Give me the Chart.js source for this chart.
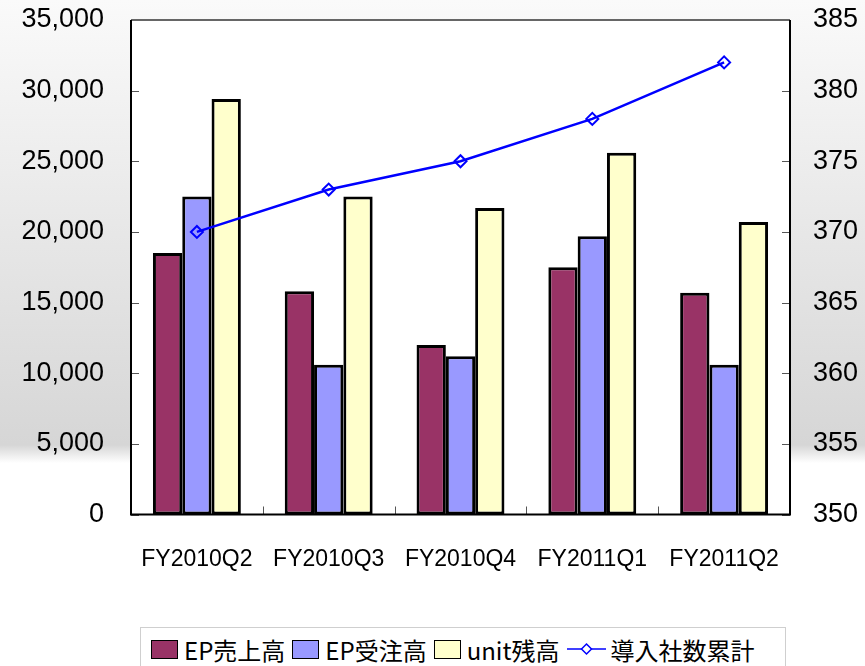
<!DOCTYPE html>
<html>
<head>
<meta charset="utf-8">
<script src="https://cdn.jsdelivr.net/npm/chart.js@4/dist/chart.umd.min.js"></script>
<style>
  html, body { margin: 0; padding: 0; }
  body {
    width: 865px; height: 666px; overflow: hidden; position: relative;
    background: linear-gradient(to bottom, #fafafa 0px, #d6d6d6 445px, #ffffff 463px, #ffffff 100%);
  }
  #chart { position: absolute; left: 0; top: 0; }
  #legend {
    position: absolute; left: 140px; top: 627px; width: 646px; height: 50px;
    background: #fff; border: 1px solid #cfcfcf; box-sizing: border-box;
    display: flex; align-items: flex-start; padding: 7px 0 0 10px;
    font-family: "Noto Sans CJK JP", sans-serif; font-size: 24px; color: #000;
  }
  .item { display: flex; align-items: center; height: 28px; margin-right: 7px; }
  .sw { width: 27px; height: 19px; border: 1px solid #000; box-sizing: border-box; margin-right: 6px; }
  .ln { width: 39px; height: 18px; margin-right: 5px; }
</style>
</head>
<body>
<canvas id="chart" width="865" height="666"></canvas>
<div id="legend"></div>
<script>
'use strict';

// ─── Data ─────────────────────────────────────────────────────────────────────
const categories = ['FY2010Q2', 'FY2010Q3', 'FY2010Q4', 'FY2011Q1', 'FY2011Q2'];
const epSales    = [18500, 15800, 12000, 17500, 15700];   // EP売上高
const epOrders   = [22500, 10600, 11200, 19700, 10600];   // EP受注高
const unitBacklog = [29400, 22500, 21700, 25600, 20700];  // unit残高
const companies  = [370, 373, 375, 378, 382];             // 導入社数累計

const seriesNames = ['EP売上高', 'EP受注高', 'unit残高', '導入社数累計'];
const COLORS = ['#993366', '#9999FF', '#FFFFCC', '#0000FF'];

const leftTicks  = { min: 0, max: 35000, step: 5000 };
const rightTicks = { min: 350, max: 385, step: 5 };

// ─── Plot frame + inward tick marks ───────────────────────────────────────────
const framePlugin = {
  id: 'frame',
  beforeDatasetsDraw(chart) {
    const { ctx, chartArea: a, scales } = chart;
    ctx.save();
    ctx.fillStyle = '#fff';
    ctx.fillRect(a.left, a.top, a.right - a.left, a.bottom - a.top);
    ctx.strokeStyle = '#555';
    ctx.lineWidth = 1;
    ctx.beginPath();
    scales.y.ticks.forEach(t => {
      const y = Math.round(scales.y.getPixelForValue(t.value)) + 0.5;
      ctx.moveTo(a.left, y); ctx.lineTo(a.left + 8, y);
    });
    scales.y2.ticks.forEach(t => {
      const y = Math.round(scales.y2.getPixelForValue(t.value)) + 0.5;
      ctx.moveTo(a.right, y); ctx.lineTo(a.right - 8, y);
    });
    for (let i = 1; i < categories.length; i++) {
      const x = Math.round((scales.x.getPixelForValue(i - 1) + scales.x.getPixelForValue(i)) / 2) + 0.5;
      ctx.moveTo(x, a.bottom); ctx.lineTo(x, a.bottom - 8);
    }
    ctx.stroke();
    ctx.restore();
  },
  afterDatasetsDraw(chart) {
    const { ctx, chartArea: a } = chart;
    ctx.save();
    ctx.lineWidth = 2;
    ctx.strokeStyle = '#666';
    ctx.beginPath(); ctx.moveTo(a.left, a.top); ctx.lineTo(a.right, a.top); ctx.stroke();
    ctx.strokeStyle = '#000';
    ctx.beginPath();
    ctx.moveTo(a.left, a.top); ctx.lineTo(a.left, a.bottom); ctx.lineTo(a.right, a.bottom); ctx.lineTo(a.right, a.top);
    ctx.stroke();
    ctx.restore();
  }
};

// ─── Chart ────────────────────────────────────────────────────────────────────
const barBase = { borderColor: '#000', borderWidth: 3, borderSkipped: false, yAxisID: 'y', order: 1 };

new Chart(document.getElementById('chart'), {
  type: 'bar',
  data: {
    labels: categories,
    datasets: [
      { ...barBase, label: seriesNames[0], data: epSales,     backgroundColor: COLORS[0] },
      { ...barBase, label: seriesNames[1], data: epOrders,    backgroundColor: COLORS[1] },
      { ...barBase, label: seriesNames[2], data: unitBacklog, backgroundColor: COLORS[2] },
      {
        type: 'line', label: seriesNames[3], data: companies, yAxisID: 'y2', order: 0,
        borderColor: COLORS[3], borderWidth: 2.5, backgroundColor: 'rgba(0,0,0,0)',
        pointStyle: 'rectRot', pointRadius: 6, pointBorderWidth: 2,
        pointBorderColor: COLORS[3], pointBackgroundColor: 'rgba(0,0,0,0)', tension: 0,
      }
    ]
  },
  options: {
    responsive: false,
    animation: false,
    layout: { padding: { top: 20, left: 0, right: 0, bottom: 0 } },
    datasets: { bar: { categoryPercentage: 0.667, barPercentage: 1.0 } },
    plugins: { legend: { display: false }, tooltip: { enabled: false } },
    scales: {
      x: {
        grid: { display: false, drawTicks: false },
        border: { display: false },
        ticks: { color: '#000', padding: 31, font: { family: 'Liberation Sans', size: 23 } },
        afterFit(s) { s.height = 151.5; s.paddingLeft = 0; s.paddingRight = 0; }
      },
      y: {
        position: 'left', min: leftTicks.min, max: leftTicks.max,
        grid: { display: false, drawTicks: false },
        border: { display: false },
        ticks: {
          stepSize: leftTicks.step, color: '#000', padding: 27,
          font: { family: 'Liberation Sans', size: 27 },
          callback: v => v.toLocaleString('en-US')
        },
        afterFit(s) { s.width = 131; s.paddingTop = 0; s.paddingBottom = 0; }
      },
      y2: {
        position: 'right', min: rightTicks.min, max: rightTicks.max,
        grid: { display: false, drawTicks: false },
        border: { display: false },
        ticks: { stepSize: rightTicks.step, color: '#000', padding: 23, font: { family: 'Liberation Sans', size: 27 } },
        afterFit(s) { s.width = 75; s.paddingTop = 0; s.paddingBottom = 0; }
      }
    }
  },
  plugins: [framePlugin]
});

// ─── Legend ───────────────────────────────────────────────────────────────────
const legendEl = document.getElementById('legend');
seriesNames.forEach((name, i) => {
  const item = document.createElement('div');
  item.className = 'item';
  if (i < 3) {
    item.innerHTML = `<span class="sw" style="background:${COLORS[i]}"></span><span>${name}</span>`;
  } else {
    item.innerHTML = `<svg class="ln" viewBox="0 0 39 18"><line x1="0" y1="9" x2="39" y2="9" stroke="${COLORS[3]}" stroke-width="1.5"/>
      <path d="M19.5 4 L24.5 9 L19.5 14 L14.5 9 Z" fill="#fff" stroke="${COLORS[3]}" stroke-width="1.5"/></svg><span>${name}</span>`;
  }
  legendEl.appendChild(item);
});
</script>
</body>
</html>
